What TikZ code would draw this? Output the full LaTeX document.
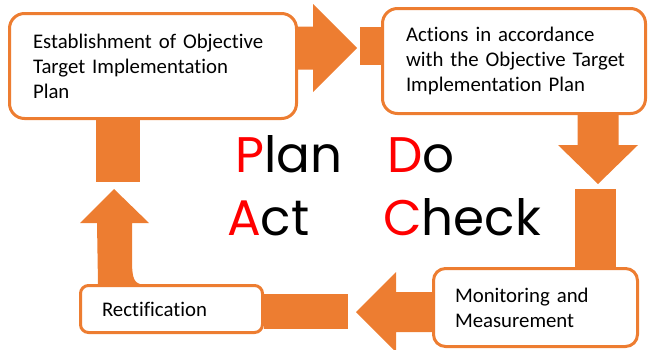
\documentclass[tikz,border=0pt]{standalone}
\usepackage{fontspec}
\setmainfont{Carlito}[Ligatures=NoCommon]
\newfontfamily\pdcafont{Poppins}
\usetikzlibrary{calc}
\definecolor{pdcaorange}{RGB}{237,125,49}
\tikzset{
  box/.style={draw=pdcaorange,line width=3pt,fill=white,align=left,inner sep=0pt,
    font=\fontsize{20.8}{25}\selectfont},
  arrowfill/.style={fill=pdcaorange},
  pdca/.style={inner sep=0pt,anchor=base west,font=\pdcafont\fontsize{50}{60}\selectfont}
}

\begin{document}
\begin{tikzpicture}[x=1pt,y=-1pt]
    \useasboundingbox (0,0) rectangle (653,349);
    % the four steps
    \node[box,rounded corners=15pt,minimum width=287pt,minimum height=105pt,text width=240pt] (estab) at (153,66)
      {Establishment of Objective\\Target Implementation\\Plan};
    \node[box,rounded corners=15pt,minimum width=263pt,minimum height=105pt,text width=216pt] (actions) at (514,61)
      {Actions in accordance\\\mbox{with the Objective Target}\\Implementation Plan};
    \node[box,rounded corners=12pt,minimum width=204pt,minimum height=78pt,text width=161pt] (monitor) at (535.5,307.5)
      {Monitoring and\\Measurement};
    \node[box,rounded corners=8pt,minimum width=182pt,minimum height=47pt,text width=139pt] (rectif) at (171.5,309)
      {Rectification};
    % arrow tips
    \coordinate (tipA) at (357,48);
    \coordinate (tipB) at (598,184);
    \coordinate (tipC) at (356,312);
    \coordinate (tipD) at (114,189);
    % plan -> do
    \fill[arrowfill] (tipA) -- ++(-44,-44) -- ++(0,22.5) -- ($(estab.east |- tipA)+(0,-21.5)$) -- ++(0,43)
      -- ($(tipA)+(-44,21.5)$) -- ++(0,22.5) -- cycle;
    \fill[arrowfill] ($(actions.west)+(-21,-34)$) rectangle ($(actions.west)+(0,4)$);
    % do -> check
    \fill[arrowfill] (tipB) -- ++(-40,-39) -- ++(19.5,0) -- ($(tipB |- actions.south)+(-20.5,0)$) -- ++(41,0)
      -- ($(tipB)+(20.5,-39)$) -- ++(19.5,0) -- cycle;
    \fill[arrowfill] ($(tipB)+(-23,5)$) rectangle ($(tipB |- monitor.north)+(18,0)$);
    % check -> act
    \fill[arrowfill] (tipC) -- ++(40,-40) -- ++(0,20) -- ($(tipC -| monitor.west)+(0,-20)$) -- ++(0,40)
      -- ($(tipC)+(40,20)$) -- ++(0,20) -- cycle;
    \fill[arrowfill] ($(rectif.east)+(0,-15.5)$) rectangle ($(rectif.east)+(84,19.5)$);
    % act -> plan
    \fill[arrowfill] (tipD) -- ++(-34,34) -- ++(17,0) -- ($(tipD |- rectif.north)+(-16,0)$) -- ++(42,0)
      .. controls ($(tipD)+(19,93)$) and ($(tipD)+(18,86)$) .. ($(tipD)+(18,70)$) -- ($(tipD)+(18,34)$)
      -- ++(17,0) -- cycle;
    \fill[arrowfill] ($(estab.south -| tipD)+(-18,0)$) rectangle ($(tipD)+(26,-7)$);
    % PDCA letters
    \node[pdca] (plan) at (235,172) {\textcolor{red}{P}lan};
    \node[pdca] (do) at (387,172) {\textcolor{red}{D}o};
    \node[pdca] (act) at (227,235) {\textcolor{red}{A}ct};
    \node[pdca] (check) at (383,235) {\textcolor{red}{C}heck};
\end{tikzpicture}
\end{document}
